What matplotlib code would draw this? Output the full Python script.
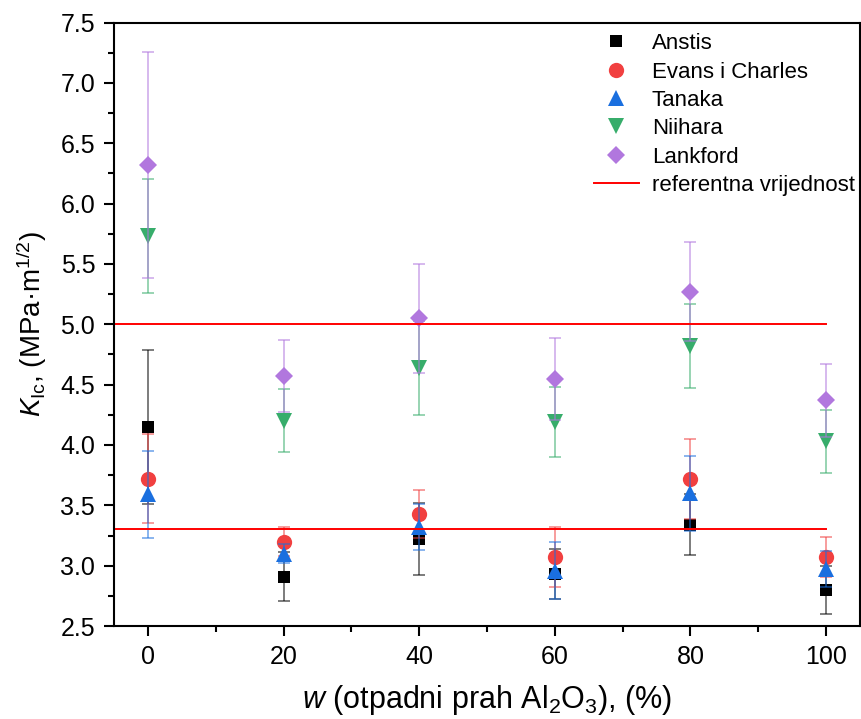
import numpy as np
import matplotlib
matplotlib.use('Agg')
import matplotlib.pyplot as plt
from matplotlib.ticker import MultipleLocator

plt.rcParams['font.family'] = ['Liberation Sans', 'DejaVu Sans']
plt.rcParams['mathtext.fontset'] = 'custom'
plt.rcParams['mathtext.rm'] = 'Liberation Sans'
plt.rcParams['mathtext.it'] = 'Liberation Sans:italic'

# %% Data
w = [0, 20, 40, 60, 80, 100]

anstis = [4.15, 2.91, 3.22, 2.93, 3.34, 2.80]
anstis_err = [0.64, 0.20, 0.30, 0.21, 0.25, 0.20]

evans = [3.72, 3.20, 3.43, 3.07, 3.72, 3.07]
evans_err = [0.37, 0.12, 0.20, 0.25, 0.33, 0.165]

tanaka = [3.59, 3.10, 3.32, 2.96, 3.60, 2.97]
tanaka_err = [0.36, 0.08, 0.19, 0.24, 0.31, 0.15]

niihara = [5.73, 4.20, 4.64, 4.19, 4.82, 4.03]
niihara_err = [0.47, 0.26, 0.39, 0.29, 0.35, 0.26]

lankford = [6.32, 4.57, 5.05, 4.55, 5.27, 4.37]
lankford_err = [0.94, 0.30, 0.45, 0.34, 0.41, 0.30]

ref_values = [5.0, 3.3]
ref_x = [-5, 100]

series = [
    ('Anstis', anstis, anstis_err, 's', '#000000', 9),
    ('Evans i Charles', evans, evans_err, 'o', '#F14040', 11),
    ('Tanaka', tanaka, tanaka_err, '^', '#1A6FDF', 11),
    ('Niihara', niihara, niihara_err, 'v', '#37AD6B', 11),
    ('Lankford', lankford, lankford_err, 'D', '#B177DE', 9),
]

# %% Plot
fig = plt.figure(figsize=(8.61, 7.19), dpi=100)
ax = fig.add_axes([0.1324, 0.1293, 0.8665, 0.8393])

for name, vals, errs, mk, col, ms in series:
    ax.errorbar(w, vals, yerr=errs, fmt='none', ecolor=col, alpha=0.6,
                elinewidth=1.2, capsize=4.5, capthick=1.2)
    ax.plot(w, vals, linestyle='none', marker=mk, color=col, ms=ms,
            markeredgewidth=0, label=name)

for i, r in enumerate(ref_values):
    ax.plot(ref_x, [r, r], color='#FF0000', lw=1.4,
            label='referentna vrijednost' if i == 0 else None)

ax.set_xlim(-5, 105)
ax.set_ylim(2.5, 7.5)
ax.xaxis.set_major_locator(MultipleLocator(20))
ax.xaxis.set_minor_locator(MultipleLocator(10))
ax.yaxis.set_major_locator(MultipleLocator(0.5))
ax.yaxis.set_minor_locator(MultipleLocator(0.25))
ax.yaxis.set_major_formatter(matplotlib.ticker.FormatStrFormatter('%.1f'))
ax.tick_params(which='both', direction='out', width=1.5, labelsize=18, pad=6)
ax.tick_params(which='major', length=7.5)
ax.tick_params(which='minor', length=4)
for s in ax.spines.values():
    s.set_linewidth(1.5)

ax.set_xlabel(r'$w$ (otpadni prah Al$_2$O$_3$), (%)', fontsize=22, labelpad=10)
ax.set_ylabel(r'$K_{\mathrm{Ic}}$, (MPa·m$^{1/2}$)', fontsize=20, labelpad=8)

ax.legend(loc='upper right', bbox_to_anchor=(1.005, 0.997), frameon=False,
          fontsize=16, handlelength=2.0, labelspacing=0.33, borderaxespad=0.0,
          handletextpad=0.6)

plt.savefig('out.png', dpi=100)
